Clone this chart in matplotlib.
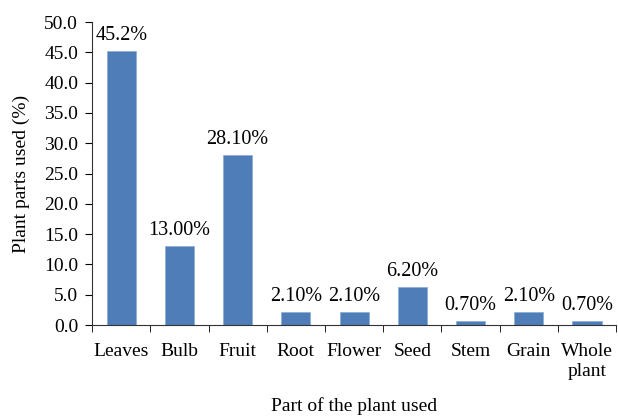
import matplotlib.pyplot as plt
import numpy as np

parts = ['Leaves', 'Bulb', 'Fruit', 'Root', 'Flower', 'Seed', 'Stem', 'Grain', 'Whole\nplant']
values = [45.2, 13.0, 28.1, 2.1, 2.1, 6.2, 0.7, 2.1, 0.7]
labels = ['45.2%', '13.00%', '28.10%', '2.10%', '2.10%', '6.20%', '0.70%', '2.10%', '0.70%']

plt.rcParams['font.family'] = ['Liberation Serif', 'DejaVu Serif']
plt.rcParams['font.size'] = 14

fig = plt.figure(figsize=(6.18, 4.17), dpi=100)
ax = fig.add_axes([0.149, 0.2206, 0.848, 0.7266])

x = np.arange(len(parts))
ax.bar(x, values, width=0.5, color='#4F7DB8', edgecolor='#8FAFD6', linewidth=0.6)
for xi, v, lab in zip(x, values, labels):
    ax.text(xi, v + 1.0, lab, ha='center', va='bottom', fontsize=14.5)

ax.set_xlim(-0.5, len(parts) - 0.5)
ax.set_ylim(0, 50)
ax.set_yticks(np.arange(0, 50.1, 5))
ax.set_yticklabels(['%.1f' % t for t in np.arange(0, 50.1, 5)])
ax.set_xticks(x)
ax.set_xticklabels(parts, linespacing=1.25)
ax.set_xticks(np.arange(-0.5, len(parts)), minor=True)
ax.tick_params(axis='x', which='major', length=0, pad=13)
ax.tick_params(axis='x', which='minor', length=5, direction='out')
ax.tick_params(axis='y', length=5, direction='out', pad=5)

ax.spines['top'].set_visible(False)
ax.spines['right'].set_visible(False)
ax.spines['left'].set_color('#333333')
ax.spines['bottom'].set_color('#333333')

ax.set_ylabel('Plant parts used (%)', labelpad=10)
ax.set_xlabel('Part of the plant used', labelpad=12)

fig.savefig('out.png')
